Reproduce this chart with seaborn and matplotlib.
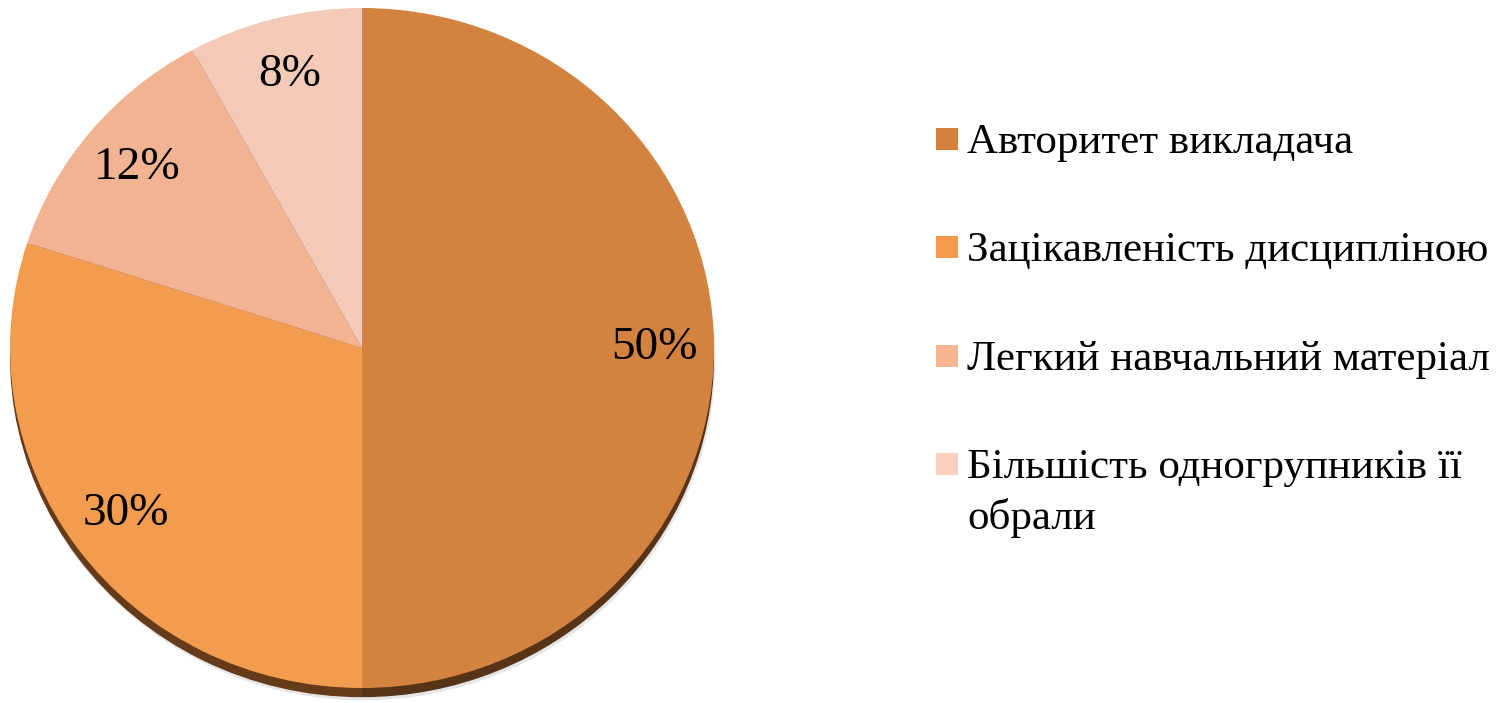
import os
import matplotlib
matplotlib.use("Agg")
import matplotlib.pyplot as plt
import seaborn as sns
from matplotlib.patches import Rectangle
from matplotlib import font_manager as fm

categories = ["Авторитет викладача", "Зацікавленість дисципліною",
              "Легкий навчальний матеріал", "Більшість одногрупників її\nобрали"]
values = [50, 30, 12, 8]
pct_labels = ["50%", "30%", "12%", "8%"]
slice_colors = ["#D3833F", "#F29C50", "#F2B393", "#F3CAB8"]
legend_colors = ["#D4813F", "#F59A4C", "#F7B692", "#FBD0BF"]
rim_colors = ["#573418", "#653B1A", "#6E4A36", "#7A5A4A"]

sns.set_theme(style="white")
plt.rcParams["font.family"] = "serif"
plt.rcParams["font.serif"] = ["Liberation Serif", "Tinos", "Times New Roman", "DejaVu Serif"]

serif_path = "/usr/share/fonts/truetype/liberation/LiberationSerif-Regular.ttf"
if os.path.exists(serif_path):
    fm.fontManager.addfont(serif_path)
    fp_kwargs = lambda size: dict(fontproperties=fm.FontProperties(fname=serif_path, size=size))
else:
    fp_kwargs = lambda size: dict(fontsize=size)

W, H = 1501, 703
fig = plt.figure(figsize=(W / 100, H / 100), dpi=100)
fig.patch.set_facecolor("white")

# pie axes (pixel box: x 10..714, y 8..688)
ax = fig.add_axes([10 / W, (H - 688) / H, 704 / W, 680 / H])

# soft gray shadow and 3D rim
ax.pie(values, colors=["#E6E6E6"] * 4, startangle=90, counterclock=False,
       radius=1.0, center=(0.004, -0.036), frame=False,
       wedgeprops=dict(linewidth=0))
ax.pie(values, colors=rim_colors, startangle=90, counterclock=False,
       radius=1.0, center=(0, -0.027), frame=False,
       wedgeprops=dict(linewidth=0))
wedges, texts = ax.pie(values, colors=slice_colors, startangle=90,
                       counterclock=False, radius=1.0, center=(0, 0),
                       labels=pct_labels, labeldistance=0.83, frame=False,
                       wedgeprops=dict(linewidth=0))
for t in texts:
    t.set(color="black", ha="center", va="center", **fp_kwargs(34))
ax.set_aspect("auto")
ax.set_xlim(-1, 1)
ax.set_ylim(-1.0, 1.0)
ax.axis("off")

# legend drawn manually to keep the square aligned with the first line
baselines = [153, 261, 370, 478]
line_step = 51
for lab, col, yb in zip(categories, legend_colors, baselines):
    sq_top = yb - 25
    fig.patches.append(Rectangle((936 / W, (H - sq_top - 22) / H), 22 / W, 22 / H,
                                 transform=fig.transFigure, facecolor=col,
                                 edgecolor="none"))
    for k, line in enumerate(lab.split("\n")):
        fig.text(967 / W, (H - yb - k * line_step) / H, line,
                 color="black", ha="left", va="baseline", **fp_kwargs(31))

fig.savefig("out.png", dpi=100, facecolor="white")
